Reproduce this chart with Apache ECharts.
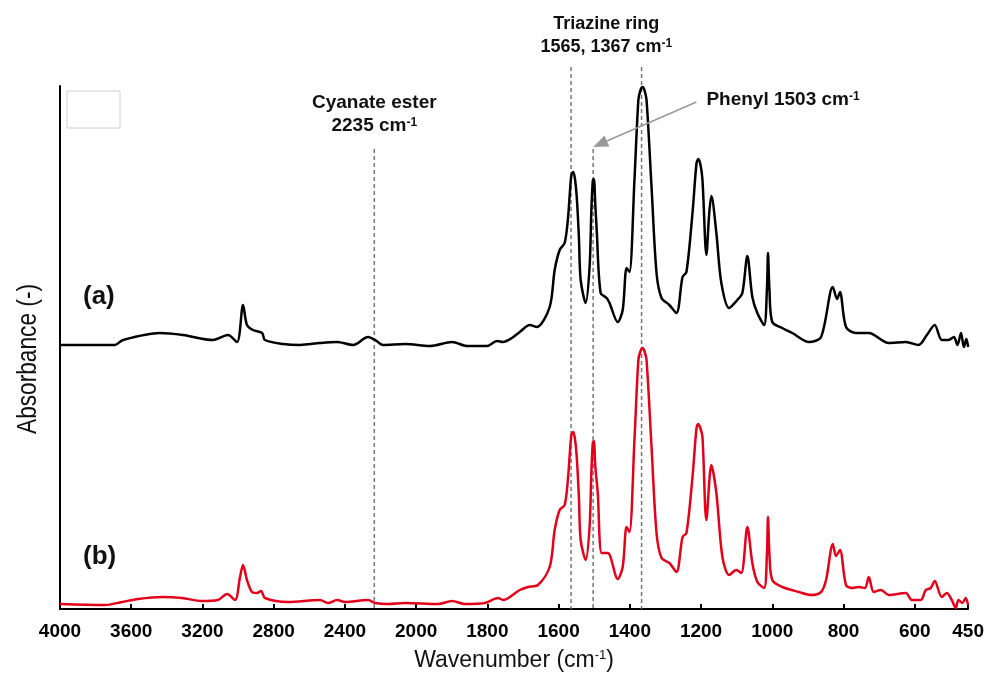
<!DOCTYPE html>
<html>
<head>
<meta charset="utf-8">
<script src="https://cdn.jsdelivr.net/npm/echarts@6/dist/echarts.min.js"></script>
<style>
  html, body { margin: 0; padding: 0; background: #fff; }
  #ftir { width: 987px; height: 680px; }
</style>
</head>
<body>
<div id="ftir"></div>
<script>
// spectrum (a): wavenumber (cm-1) and absorbance (a.u., offset included)
var wnA = [4000, 3692, 3647, 3439, 3309, 3141, 3057, 3006, 2972, 2950,
    2916, 2865, 2849, 2747, 2652, 2540, 2444, 2354, 2270, 2230,
    2185, 2062, 1961, 1899, 1857, 1801, 1773, 1756, 1731, 1709,
    1681, 1661, 1625, 1611, 1597, 1583, 1574, 1568, 1564, 1559,
    1554, 1549, 1543, 1538, 1524, 1513, 1508, 1504, 1501, 1497,
    1493, 1482, 1465, 1457, 1434, 1420, 1409, 1401, 1387, 1376,
    1370, 1364, 1359, 1353, 1339, 1325, 1311, 1289, 1269, 1252,
    1241, 1224, 1213, 1208, 1202, 1196, 1185, 1177, 1171, 1157,
    1143, 1121, 1098, 1084, 1070, 1056, 1042, 1023, 1015, 1012,
    1008, 1000, 972, 944, 897, 863, 830, 818, 810, 793,
    765, 729, 673, 625, 589, 566, 544, 524, 505, 490,
    480, 470, 462, 455, 450];
var absA = [264, 264, 269, 276, 274, 269, 274, 267, 304, 284,
    279, 276, 269, 265, 264, 266, 267, 264, 272, 269,
    264, 265, 263, 267, 263, 263, 268, 267, 271, 277,
    284, 282, 302, 339, 359, 366, 389, 418, 434, 437,
    430, 412, 372, 329, 306, 342, 398, 428, 430, 405,
    379, 316, 311, 306, 287, 299, 341, 337, 429, 509,
    519, 522, 519, 509, 422, 336, 311, 304, 296, 332,
    337, 396, 445, 450, 445, 429, 354, 396, 413, 376,
    326, 301, 309, 316, 353, 312, 296, 284, 320, 356,
    320, 287, 281, 276, 267, 272, 322, 310, 317, 282,
    276, 276, 266, 267, 264, 274, 284, 269, 269, 272,
    264, 276, 262, 270, 262];

// spectrum (b)
var wnB = [4000, 3748, 3652, 3562, 3427, 3315, 3203, 3113, 3062, 3017,
    2989, 2972, 2950, 2922, 2894, 2871, 2849, 2719, 2540, 2495,
    2444, 2399, 2270, 2230, 2157, 2062, 1938, 1899, 1863, 1807,
    1770, 1756, 1709, 1686, 1658, 1625, 1611, 1597, 1583, 1574,
    1568, 1564, 1559, 1554, 1549, 1543, 1538, 1524, 1513, 1508,
    1504, 1501, 1497, 1490, 1479, 1462, 1434, 1420, 1409, 1401,
    1387, 1376, 1370, 1364, 1359, 1353, 1339, 1325, 1311, 1289,
    1269, 1252, 1241, 1224, 1213, 1208, 1202, 1196, 1185, 1171,
    1157, 1140, 1121, 1101, 1087, 1070, 1056, 1042, 1023, 1015,
    1012, 1008, 1000, 972, 925, 891, 863, 849, 830, 821,
    810, 793, 776, 757, 740, 729, 715, 695, 673, 625,
    608, 583, 569, 555, 544, 524, 510, 496, 485, 477,
    466, 457, 450];
var absB = [5, 4, 7, 10, 12, 11, 8, 9, 15, 9,
    32, 44, 29, 17, 16, 18, 11, 7, 9, 6,
    9, 7, 9, 6, 5, 6, 5, 8, 5, 6,
    11, 9, 19, 22, 24, 42, 79, 99, 104, 129,
    158, 174, 177, 170, 152, 112, 69, 49, 82, 136,
    166, 168, 143, 116, 56, 56, 30, 42, 82, 77,
    169, 249, 258, 261, 258, 249, 162, 76, 51, 46,
    37, 72, 76, 132, 180, 185, 181, 172, 89, 144,
    116, 52, 34, 39, 36, 82, 46, 27, 21, 55,
    92, 55, 29, 22, 17, 14, 17, 29, 65, 53,
    59, 24, 21, 22, 21, 32, 17, 19, 14, 16,
    9, 9, 19, 21, 28, 12, 16, 9, 1, 9,
    6, 11, 4];

// tick labels of the wavenumber axis
var xTicks = [4000, 3600, 3200, 2800, 2400, 2000, 1800, 1600, 1400, 1200, 1000, 800, 600, 450];

// the axis is compressed 2x above 2000 cm-1 (usual FTIR scale change)
function toAxis(w) { return w > 2000 ? 2000 + (w - 2000) / 2 : w; }
function fromAxis(u) { return u > 2000 ? Math.round(2000 + (u - 2000) * 2) : Math.round(u); }
function pairs(wn, ab) {
    return wn.map(function (w, i) { return [toAxis(w), ab[i]]; });
}

var font = '"Liberation Sans", Arial, sans-serif';
var chart = echarts.init(document.getElementById('ftir'));

var option = {
    backgroundColor: '#ffffff',
    animation: false,
    grid: { left: 60, right: 17, top: 86, bottom: 71 },
    xAxis: {
        type: 'value',
        min: 450,
        max: 3000,
        inverse: true,
        name: 'Wavenumber (cm{sup|-1})',
        nameLocation: 'middle',
        nameGap: 40,
        nameTextStyle: {
            color: '#111',
            fontSize: 23,
            fontFamily: font,
            rich: {
                sup: { fontSize: 13, fontFamily: font, color: '#111', verticalAlign: 'top', lineHeight: 13 }
            }
        },
        axisLine: { lineStyle: { color: '#000', width: 2 } },
        axisTick: {
            customValues: xTicks.map(toAxis),
            inside: true,
            length: 5,
            lineStyle: { color: '#000', width: 2 }
        },
        axisLabel: {
            customValues: xTicks.map(toAxis),
            formatter: function (u) { return String(fromAxis(u)); },
            color: '#000',
            fontSize: 19,
            fontWeight: 'bold',
            fontFamily: font,
            margin: 13
        },
        splitLine: { show: false }
    },
    yAxis: {
        type: 'value',
        min: 0,
        max: 523,
        axisLine: { show: true, lineStyle: { color: '#000', width: 2 } },
        axisTick: { show: false },
        axisLabel: { show: false },
        splitLine: { show: false }
    },
    series: [
        {
            name: '(a)',
            type: 'line',
            data: pairs(wnA, absA),
            showSymbol: false,
            smooth: 0.3,
            clip: false,
            lineStyle: { color: '#000000', width: 2.5 }
        },
        {
            name: '(b)',
            type: 'line',
            data: pairs(wnB, absB),
            showSymbol: false,
            smooth: 0.3,
            clip: false,
            lineStyle: { color: '#e2001a', width: 2.5 }
        }
    ]
};
chart.setOption(option);

// annotations placed through the chart's own scales
function px(w, v) {
    return chart.convertToPixel({ xAxisIndex: 0, yAxisIndex: 0 }, [toAxis(w), v]);
}
var guides = [[2235, 460], [1565, 542], [1503, 460], [1367, 542]];
var graphics = guides.map(function (g) {
    var p0 = px(g[0], g[1]);
    var p1 = px(g[0], 0);
    return {
        type: 'line',
        shape: { x1: p0[0], y1: p0[1], x2: p1[0], y2: p1[1] },
        style: { stroke: '#777', lineWidth: 1.5, lineDash: [4, 3] },
        z: 1
    };
});

function label(text, x, y, size, align) {
    return {
        type: 'text',
        x: x, y: y,
        style: {
            text: text, align: align || 'center', verticalAlign: 'middle',
            fontSize: size, fontWeight: 'bold', fontFamily: font, fill: '#111',
            rich: { sup: { fontSize: 12, fontWeight: 'bold', fontFamily: font, fill: '#111', verticalAlign: 'top', lineHeight: 12 } }
        },
        z: 10
    };
}

var cx = px(2235, 0)[0];
graphics.push(label('Cyanate ester', cx, 103, 19));
graphics.push(label('2235 cm{sup|-1}', cx, 126, 19));
var tx = (px(1565, 0)[0] + px(1367, 0)[0]) / 2;
graphics.push(label('Triazine ring', tx, 24, 18));
graphics.push(label('1565, 1367 cm{sup|-1}', tx, 47, 18));
var phX = px(1185, 0)[0];
graphics.push(label('Phenyl 1503 cm{sup|-1}', phX, 100, 19, 'left'));

// arrow pointing at the phenyl band
var tip = px(1503, 462);
var tail = [phX - 10, 102];
var ang = Math.atan2(tip[1] - tail[1], tip[0] - tail[0]);
var hl = 15, hw = 6;
var bx = tip[0] - hl * Math.cos(ang), by = tip[1] - hl * Math.sin(ang);
graphics.push({
    type: 'line',
    shape: { x1: tail[0], y1: tail[1], x2: bx, y2: by },
    style: { stroke: '#999', lineWidth: 1.5 },
    z: 5
});
graphics.push({
    type: 'polygon',
    shape: {
        points: [
            [tip[0], tip[1]],
            [bx + hw * Math.sin(ang), by - hw * Math.cos(ang)],
            [bx - hw * Math.sin(ang), by + hw * Math.cos(ang)]
        ]
    },
    style: { fill: '#999' },
    z: 5
});

// y axis title, horizontally condensed like the original figure
graphics.push({
    type: 'text',
    x: 29, y: 359,
    rotation: Math.PI / 2,
    scaleX: 0.84,
    style: { text: 'Absorbance (-)', fontSize: 27, fontFamily: font, fill: '#111', align: 'center', verticalAlign: 'middle' },
    z: 10
});

// curve labels
graphics.push({ type: 'text', x: 83, y: 297, style: { text: '(a)', fontSize: 26, fontWeight: 'bold', fontFamily: font, fill: '#111', verticalAlign: 'middle' }, z: 10 });
graphics.push({ type: 'text', x: 83, y: 557, style: { text: '(b)', fontSize: 26, fontWeight: 'bold', fontFamily: font, fill: '#111', verticalAlign: 'middle' }, z: 10 });

// empty legend frame left in the original figure
graphics.push({ type: 'rect', shape: { x: 67, y: 91, width: 53, height: 37 }, style: { fill: 'none', stroke: '#d0d0d0', lineWidth: 1 }, z: 2 });

chart.setOption({ graphic: graphics });
</script>
</body>
</html>
